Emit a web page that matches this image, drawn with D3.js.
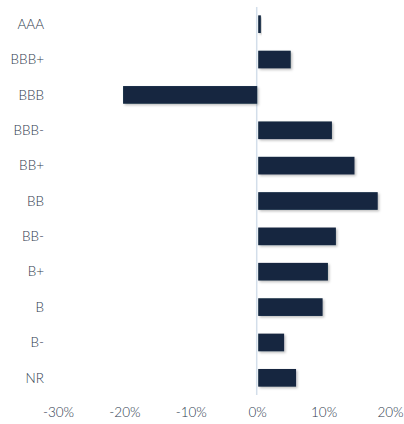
<!DOCTYPE html>
<html lang="en">
<head>
<meta charset="UTF-8">
<title>Rating bars</title>
<script src="https://cdn.jsdelivr.net/npm/d3@7/dist/d3.min.js"></script>
<style>
  body { margin: 0; background: #fff; }
  svg text { font-family: "Lato", "DejaVu Sans", sans-serif; font-weight: 300; fill: #2e3b4e; }
</style>
</head>
<body>
<svg id="chart" width="404" height="424"></svg>
<script>

const ratings = ['AAA', 'BBB+', 'BBB', 'BBB-', 'BB+', 'BB', 'BB-', 'B+', 'B', 'B-', 'NR'];
const changes = [0.4, 4.9, -20.2, 11.1, 14.5, 18.0, 11.7, 10.5, 9.7, 3.9, 5.7];
const ticks = [-30, -20, -10, 0, 10, 20];

const svg = d3.select('#chart');

const x = d3.scaleLinear().domain([-30, 20]).range([58, 390]);
const y = d3.scaleBand().domain(ratings).range([6.5, 395.5]).paddingInner(0.5).paddingOuter(0.25);

const defs = svg.append('defs');
const shadow = defs.append('filter').attr('id', 'shadow')
    .attr('x', '-10%').attr('y', '-20%').attr('width', '130%').attr('height', '160%');
shadow.append('feDropShadow')
    .attr('dx', 1.5).attr('dy', 1.5).attr('stdDeviation', 1)
    .attr('flood-color', '#000').attr('flood-opacity', 0.25);

// zero line
svg.append('line')
    .attr('x1', x(0) - 0.5).attr('x2', x(0) - 0.5)
    .attr('y1', 7).attr('y2', 395)
    .style('stroke', '#d3deea')
    .style('stroke-width', '1.5px');

svg.selectAll('rect.bar')
    .data(ratings)
    .enter()
    .append('rect')
    .attr('class', 'bar')
    .attr('x', (d, i) => changes[i] < 0 ? x(changes[i]) : x(0) + 1)
    .attr('y', d => y(d))
    .attr('width', (d, i) => Math.abs(x(changes[i]) - x(0)))
    .attr('height', y.bandwidth())
    .attr('filter', 'url(#shadow)')
    .style('fill', '#13263f');

// category labels
svg.selectAll('text.cat')
    .data(ratings)
    .enter()
    .append('text')
    .attr('class', 'cat')
    .attr('x', 44)
    .attr('y', d => y(d) + y.bandwidth() / 2)
    .attr('dy', '0.35em')
    .attr('text-anchor', 'end')
    .style('font-size', '13.5px')
    .text(d => d);

// x tick labels
const xAxis = d3.axisBottom(x).tickValues(ticks).tickFormat(d => d + '%').tickSize(0).tickPadding(0);
const xg = svg.append('g')
    .attr('transform', 'translate(0, 407)')
    .call(xAxis);
xg.select('.domain').remove();
xg.selectAll('text')
    .style('font-size', '13.5px')
    .style('font-family', '"Lato", "DejaVu Sans", sans-serif')
    .style('font-weight', 300)
    .style('fill', '#2e3b4e');

</script>
</body>
</html>
